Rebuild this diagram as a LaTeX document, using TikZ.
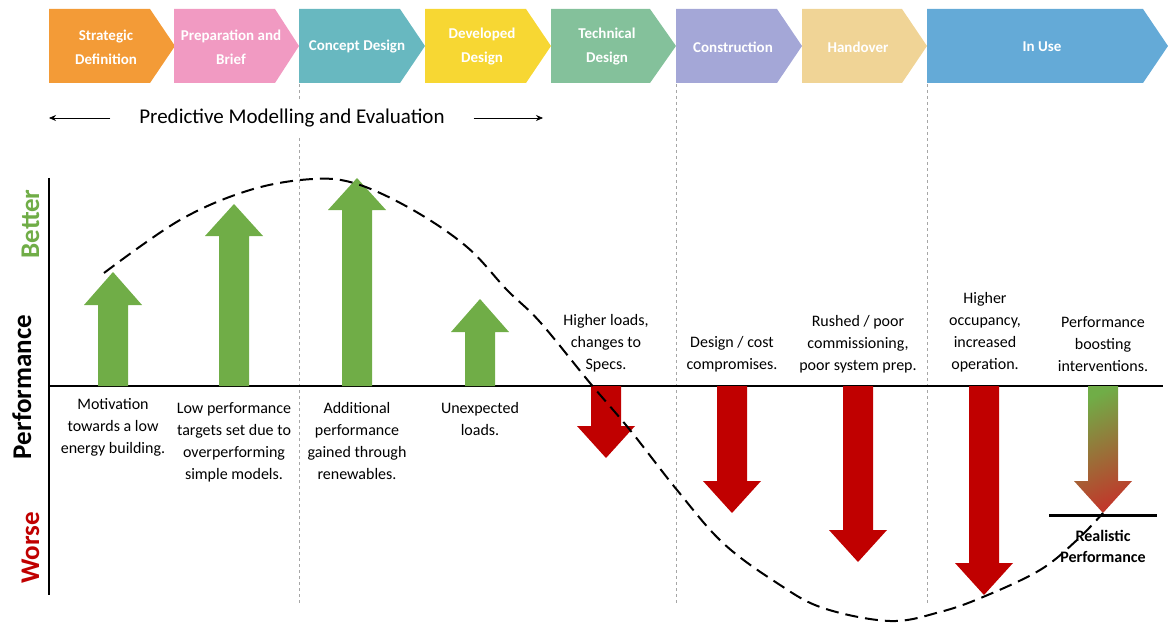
\documentclass[tikz,border=0pt]{standalone}
\usepackage{fontspec}
\setmainfont{Carlito}
\usetikzlibrary{arrows.meta}

\definecolor{sdorange}{HTML}{F39B37}
\definecolor{pbpink}{HTML}{F19AC2}
\definecolor{cdteal}{HTML}{68B8C0}
\definecolor{ddyellow}{HTML}{F7D733}
\definecolor{tdgreen}{HTML}{84C19B}
\definecolor{colavender}{HTML}{A4A7D7}
\definecolor{hotan}{HTML}{F0D496}
\definecolor{iublue}{HTML}{64AAD7}
\definecolor{gaingreen}{HTML}{70AD47}
\definecolor{lossred}{HTML}{C00000}
\definecolor{mixred}{HTML}{C0392B}
\definecolor{guidegrey}{HTML}{A6A6A6}

% block arrow from the baseline: options, centre x, head base y, tip y
\newcommand{\perfarrow}[4]{%
  \path[#1] (#2-15,386) -- (#2-15,#3) -- (#2-29,#3) -- (#2,#4)
    -- (#2+29,#3) -- (#2+15,#3) -- (#2+15,386) -- cycle;}

\begin{document}
\begin{tikzpicture}[
    x=1pt, y=-1pt,
    stage/.style={text=white, align=center, inner sep=0pt,
      font=\bfseries\fontsize{15}{24}\selectfont},
    note/.style={align=center, anchor=north, inner sep=0pt,
      font=\fontsize{16}{22}\selectfont},
    guide/.style={guidegrey, dashed, line width=0.8pt},
    ]
    \useasboundingbox (0,0) rectangle (1168,623);

    % stage chevrons
    \fill[sdorange] (49,9) -- (150,9) -- (175,46) -- (150,83) -- (49,83) -- cycle;
    \fill[pbpink] (174,9) -- (275,9) -- (299,46) -- (275,83) -- (174,83) -- cycle;
    \fill[cdteal] (299,9) -- (400,9) -- (425,46) -- (400,83) -- (299,83) -- cycle;
    \fill[ddyellow] (425,9) -- (526,9) -- (551,46) -- (526,83) -- (425,83) -- cycle;
    \fill[tdgreen] (551,9) -- (650,9) -- (676,46) -- (650,83) -- (551,83) -- cycle;
    \fill[colavender] (676,9) -- (777,9) -- (802,46) -- (777,83) -- (676,83) -- cycle;
    \fill[hotan] (802,9) -- (902,9) -- (927,46) -- (902,83) -- (802,83) -- cycle;
    \fill[iublue] (927,9) -- (1143,9) -- (1168,46) -- (1143,83) -- (927,83) -- cycle;

    \node[stage] (sd) at (106,47) {Strategic\\Definition};
    \node[stage] (pb) at (231,47) {Preparation and\\Brief};
    \node[stage] (cd) at (357,47) {Concept Design};
    \node[stage] (dd) at (482,47) {Developed\\Design};
    \node[stage] (td) at (607,47) {Technical\\Design};
    \node[stage] (co) at (733,47) {Construction};
    \node[stage] (ho) at (858,47) {Handover};
    \node[stage] (iu) at (1042,47) {In Use};

    % stage boundaries
    \draw[guide] (299,84) -- (299,604);
    \draw[guide] (676,84) -- (676,604);
    \draw[guide] (927,84) -- (927,604);

    % modelling span
    \node[fill=white, minimum width=363pt, minimum height=36pt,
      font=\fontsize{21}{24}\selectfont] (pm) at (292,118)
      {Predictive Modelling and Evaluation};
    \coordinate (pmleft) at (49,118);
    \coordinate (pmright) at (543,118);
    \draw[-{Stealth[length=7pt,width=6pt]}, line width=0.7pt] (pm.west) -- (pmleft);
    \draw[-{Stealth[length=7pt,width=6pt]}, line width=0.7pt] (pm.east) -- (pmright);

    % axes
    \draw[line width=2.5pt] (49,178) -- (49,595);
    \draw[line width=2pt] (49,386) -- (1163,386);
    \node[rotate=90, anchor=base, text=gaingreen,
      font=\bfseries\fontsize{27}{30}\selectfont] (better) at (39,224) {Better};
    \node[rotate=90, anchor=base,
      font=\bfseries\fontsize{27}{30}\selectfont] (perf) at (31,387) {Performance};
    \node[rotate=90, anchor=base, text=lossred,
      font=\bfseries\fontsize{27}{30}\selectfont] (worse) at (39,548) {Worse};

    % gains
    \perfarrow{fill=gaingreen}{113}{305}{272}
    \perfarrow{fill=gaingreen}{234}{236}{204}
    \perfarrow{fill=gaingreen}{357}{210}{178}
    \perfarrow{fill=gaingreen}{480}{332}{299}
    % losses
    \perfarrow{fill=lossred}{606}{426}{458}
    \perfarrow{fill=lossred}{732}{481}{513}
    \perfarrow{fill=lossred}{858}{530}{562}
    \perfarrow{fill=lossred}{984}{563}{595}
    \perfarrow{top color=gaingreen, bottom color=mixred, shading angle=25}{1103}{481}{513}

    % realistic level
    \draw[line width=3pt] (1049,515) -- (1157,515);

    \node[note] (n1) at (113,398) {Motivation\\towards a low\\energy building.};
    \node[note] (n2) at (234,402) {Low performance\\targets set due to\\overperforming\\simple models.};
    \node[note] (n3) at (357,402) {Additional\\performance\\gained through\\renewables.};
    \node[note] (n4) at (480,402) {Unexpected\\loads.};
    \node[note] (n5) at (606,314) {Higher loads,\\changes to\\Specs.};
    \node[note] (n6) at (732,336) {Design / cost\\compromises.};
    \node[note] (n7) at (858,315) {Rushed / poor\\commissioning,\\poor system prep.};
    \node[note] (n8) at (985,292) {Higher\\occupancy,\\increased\\operation.};
    \node[note] (n9) at (1103,316) {Performance\\boosting\\interventions.};
    \node[note, font=\bfseries\fontsize{16}{21}\selectfont] (real) at (1103,530)
      {Realistic\\Performance};

    % performance trend
    \draw[line width=2pt, dash pattern=on 13pt off 7pt] plot[smooth, tension=0.6] coordinates {
      (104,273) (180,220) (250,190) (313,179) (357,184) (413,210) (467,247)
      (507,290) (540,322) (590,383) (630,430) (677,490) (723,543) (777,583)
      (823,608) (890,621) (940,612) (983,597) (1040,570) (1077,540) (1103,513)};
\end{tikzpicture}
\end{document}
